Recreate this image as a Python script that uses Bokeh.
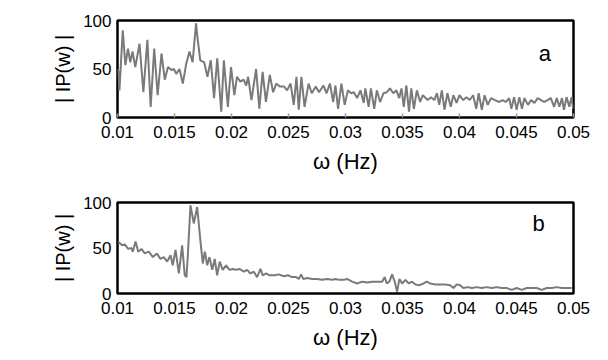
from bokeh.plotting import figure
from bokeh.layouts import column
from bokeh.models import Label, FixedTicker
from bokeh.embed import file_html
from bokeh.resources import INLINE

# ---- data ----
freq_a = [0.01006, 0.01017, 0.01046, 0.01069, 0.01092, 0.01112, 0.01132, 0.01156, 0.01193, 0.01227,
          0.01262, 0.01291, 0.01322, 0.01352, 0.01386, 0.01415, 0.01443, 0.01473, 0.01495, 0.01516,
          0.01544, 0.01573, 0.01602, 0.01631, 0.01659, 0.01689, 0.01702, 0.01726, 0.01760, 0.01789,
          0.01818, 0.01847, 0.01875, 0.01910, 0.01933, 0.01968, 0.01996, 0.02025, 0.02048, 0.02077,
          0.02106, 0.02129, 0.02146, 0.02175, 0.02216, 0.02244, 0.02273, 0.02302, 0.02336, 0.02365,
          0.02393, 0.02423, 0.02460, 0.02488, 0.02518, 0.02546, 0.02570, 0.02590, 0.02613, 0.02641,
          0.02676, 0.02704, 0.02739, 0.02768, 0.02806, 0.02834, 0.02863, 0.02892, 0.02912, 0.02935,
          0.02964, 0.02993, 0.03021, 0.03050, 0.03073, 0.03102, 0.03131, 0.03160, 0.03174, 0.03203,
          0.03223, 0.03252, 0.03275, 0.03304, 0.03333, 0.03361, 0.03390, 0.03419, 0.03447, 0.03471,
          0.03491, 0.03511, 0.03534, 0.03557, 0.03577, 0.03600, 0.03626, 0.03655, 0.03678, 0.03721,
          0.03750, 0.03779, 0.03802, 0.03822, 0.03845, 0.03868, 0.03894, 0.03923, 0.03946, 0.03974,
          0.04000, 0.04032, 0.04061, 0.04090, 0.04119, 0.04147, 0.04168, 0.04196, 0.04220, 0.04248,
          0.04277, 0.04311, 0.04349, 0.04378, 0.04406, 0.04436, 0.04455, 0.04479, 0.04501, 0.04525,
          0.04548, 0.04570, 0.04600, 0.04628, 0.04657, 0.04686, 0.04715, 0.04743, 0.04773, 0.04801,
          0.04830, 0.04853, 0.04876, 0.04899, 0.04916, 0.04939, 0.04963, 0.04983, 0.04997]
amp_a = [50, 28, 90, 54, 71, 57, 68, 52, 76, 26,
         80, 11, 71, 23, 66, 39, 52, 49, 50, 45,
         50, 35, 55, 68, 57, 97, 82, 59, 57, 42,
         59, 20, 61, 6, 59, 11, 52, 23, 42, 37,
         39, 33, 42, 18, 50, 9, 47, 16, 44, 26,
         35, 32, 32, 28, 35, 13, 42, 8, 42, 11,
         35, 25, 32, 26, 33, 25, 35, 16, 33, 9,
         35, 13, 28, 25, 26, 20, 28, 15, 30, 11,
         30, 9, 28, 16, 25, 26, 30, 25, 28, 20,
         30, 11, 33, 6, 30, 9, 28, 16, 23, 18,
         21, 18, 25, 13, 28, 8, 25, 11, 23, 15,
         23, 18, 21, 18, 23, 9, 25, 8, 23, 13,
         20, 18, 16, 18, 16, 20, 9, 21, 8, 21,
         9, 20, 13, 18, 15, 20, 18, 16, 18, 20,
         11, 20, 11, 20, 8, 21, 11, 21, 9]

freq_b = [0.01006, 0.01041, 0.01064, 0.01094, 0.01123, 0.01134, 0.01158, 0.01182, 0.01210, 0.01239,
          0.01275, 0.01310, 0.01345, 0.01377, 0.01406, 0.01436, 0.01465, 0.01485, 0.01509, 0.01538,
          0.01567, 0.01590, 0.01605, 0.01617, 0.01640, 0.01669, 0.01699, 0.01728, 0.01748, 0.01766,
          0.01787, 0.01807, 0.01831, 0.01853, 0.01874, 0.01897, 0.01923, 0.01953, 0.01982, 0.02011,
          0.02041, 0.02070, 0.02108, 0.02137, 0.02166, 0.02195, 0.02225, 0.02254, 0.02274, 0.02304,
          0.02333, 0.02380, 0.02415, 0.02458, 0.02497, 0.02532, 0.02567, 0.02590, 0.02611, 0.02629,
          0.02664, 0.02708, 0.02751, 0.02795, 0.02839, 0.02883, 0.02912, 0.02947, 0.02985, 0.03014,
          0.03058, 0.03102, 0.03146, 0.03190, 0.03234, 0.03278, 0.03321, 0.03344, 0.03362, 0.03385,
          0.03409, 0.03432, 0.03453, 0.03473, 0.03497, 0.03526, 0.03555, 0.03584, 0.03613, 0.03642,
          0.03684, 0.03713, 0.03742, 0.03786, 0.03830, 0.03874, 0.03918, 0.03947, 0.03976, 0.04005,
          0.04034, 0.04072, 0.04107, 0.04151, 0.04195, 0.04239, 0.04283, 0.04326, 0.04370, 0.04414,
          0.04458, 0.04502, 0.04546, 0.04590, 0.04633, 0.04677, 0.04721, 0.04765, 0.04809, 0.04853,
          0.04897, 0.04940, 0.04984]
amp_b = [57, 53, 54, 49, 50, 46, 57, 46, 49, 44,
         46, 40, 44, 38, 40, 35, 42, 31, 48, 22,
         53, 20, 18, 42, 97, 77, 95, 57, 33, 46,
         31, 40, 26, 38, 20, 35, 26, 31, 26, 27,
         26, 27, 24, 26, 22, 24, 18, 27, 20, 22,
         20, 20, 21, 19, 20, 18, 18, 16, 21, 16,
         17, 16, 16, 15, 16, 15, 16, 15, 15, 16,
         13, 11, 13, 12, 13, 13, 13, 18, 11, 13,
         21, 13, 2, 16, 11, 15, 11, 13, 10, 9,
         11, 13, 11, 10, 10, 10, 9, 6, 10, 9,
         6, 7, 6, 7, 6, 7, 6, 7, 6, 6,
         4, 6, 4, 6, 6, 6, 4, 6, 6, 7,
         6, 6, 6]

x_ticks = [0.01, 0.015, 0.02, 0.025, 0.03, 0.035, 0.04, 0.045, 0.05]
x_tick_labels = ["0.01", "0.015", "0.02", "0.025", "0.03", "0.035", "0.04", "0.045", "0.05"]
y_ticks = [0, 50, 100]
panel_labels = ["a", "b"]

FONT = "Liberation Sans"
LINE_COLOR = "#7a7a7a"


def make_panel(freq, amp, letter, letter_xy, height, borders, show_inner_ticks):
    left, right, top, bottom = borders
    p = figure(width=592, height=height, x_range=(0.01, 0.05), y_range=(0, 100),
               output_backend="svg", toolbar_location=None,
               min_border_left=left, min_border_right=right,
               min_border_top=top, min_border_bottom=bottom)
    p.line(freq, amp, line_color=LINE_COLOR, line_width=2)
    p.grid.visible = False
    p.outline_line_color = "black"
    p.outline_line_width = 2.5
    p.outline_line_alpha = 1.0
    p.background_fill_color = "white"
    p.border_fill_color = "white"

    p.xaxis.ticker = FixedTicker(ticks=x_ticks)
    p.xaxis.major_label_overrides = {t: s for t, s in zip(x_ticks, x_tick_labels)}
    p.yaxis.ticker = FixedTicker(ticks=y_ticks)
    for ax in (p.xaxis, p.yaxis):
        ax.axis_line_color = None
        ax.minor_tick_line_color = None
        ax.major_tick_out = 0
        ax.major_label_text_font = FONT
        ax.major_label_text_font_size = "17px"
        ax.major_label_text_color = "black"
        ax.axis_label_text_font = FONT
        ax.axis_label_text_font_style = "normal"
        ax.axis_label_text_color = "black"
    p.xaxis.axis_label_text_font_size = "22px"
    p.yaxis.axis_label_text_font_size = "20px"
    if show_inner_ticks:
        p.xaxis.major_tick_in = 4
        p.xaxis.major_tick_line_color = "#9a9a9a"
        p.xaxis.major_tick_line_width = 1.5
    else:
        p.xaxis.major_tick_in = 0
        p.xaxis.major_tick_line_color = None
    p.yaxis.major_tick_in = 0
    p.yaxis.major_tick_line_color = None

    p.xaxis.axis_label = "ω (Hz)"
    p.yaxis.axis_label = "| IP(w) |"
    p.xaxis.major_label_standoff = 8
    p.xaxis.axis_label_standoff = 8
    p.yaxis.major_label_standoff = 6
    p.yaxis.axis_label_standoff = 6

    p.add_layout(Label(x=letter_xy[0], y=letter_xy[1], text=letter,
                       text_font=FONT, text_font_size="22px", text_color="black",
                       text_align="center", text_baseline="middle"))
    return p


top = make_panel(freq_a, amp_a, panel_labels[0], (0.04749, 66), 180, (114, 15, 20, 63), True)
bot = make_panel(freq_b, amp_b, panel_labels[1], (0.04693, 77), 172, (117, 19, 22, 59), False)

layout = column(top, bot, spacing=0)
open("out.html", "w").write(file_html(layout, INLINE))
